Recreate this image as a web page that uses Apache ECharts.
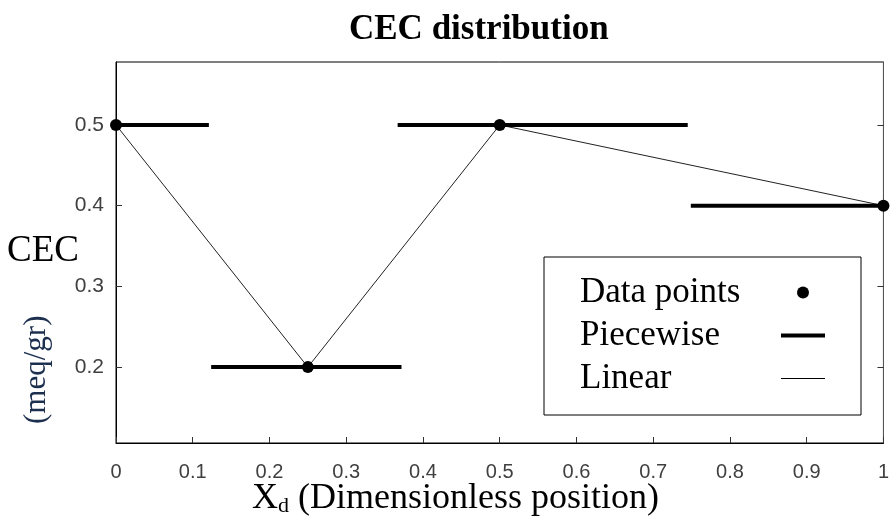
<!DOCTYPE html>
<html>
<head>
<meta charset="utf-8">
<script src="https://cdn.jsdelivr.net/npm/echarts@6/dist/echarts.min.js"></script>
<style>
  * { margin: 0; padding: 0; }
  #chart { width: 892px; height: 525px; background: #fff; }
</style>
</head>
<body>
<div id="chart"></div>
<script>
// measured data points
const pointX = [0, 0.25, 0.5, 1];
const pointY = [0.5, 0.2, 0.5, 0.4];

// piecewise constant pieces
const pieceStart = [0, 0.124, 0.367, 0.749];
const pieceEnd = [0.121, 0.372, 0.745, 1];
const pieceValue = [0.5, 0.2, 0.5, 0.4];

const yTicks = [0.2, 0.3, 0.4, 0.5];

const serif = "'Liberation Serif', 'Times New Roman', serif";
const sans = "'Liberation Sans', Arial, sans-serif";

const points = pointX.map((x, i) => [x, pointY[i]]);

const pieceSeries = pieceStart.map((s, i) => ({
  name: "Piecewise",
  type: "line",
  symbol: "none",
  lineStyle: { color: "#000", width: 4 },
  itemStyle: { color: "#000" },
  data: [[s, pieceValue[i]], [pieceEnd[i], pieceValue[i]]],
  z: 3,
}));

const chart = echarts.init(document.getElementById("chart"), null, { renderer: "canvas" });

const noDot = { color: "rgba(0,0,0,0)", borderWidth: 0 };

const option = {
  animation: false,
  backgroundColor: "#fff",
  title: {
    text: "CEC distribution",
    left: 344,
    top: 7,
    textStyle: { fontFamily: serif, fontSize: 35, fontWeight: "bold", color: "#000" },
  },
  grid: { left: 116, right: 7, top: 62, bottom: 82, show: true, borderColor: "#000", borderWidth: 1 },
  xAxis: {
    type: "value",
    min: 0,
    max: 1,
    interval: 0.1,
    axisLine: { lineStyle: { color: "#000", width: 1 } },
    axisTick: { inside: true, length: 6, lineStyle: { color: "#333" } },
    axisLabel: {
      margin: 19,
      fontFamily: sans,
      fontSize: 20,
      color: "#404040",
      formatter: (v) => String(Math.round(v * 10) / 10),
    },
    splitLine: { show: false },
  },
  yAxis: [
    {
      type: "value",
      min: 0.106,
      max: 0.578,
      axisLine: { show: true, lineStyle: { color: "#000", width: 1 } },
      axisTick: { show: true, inside: true, length: 6, customValues: yTicks, lineStyle: { color: "#333" } },
      axisLabel: {
        margin: 12,
        fontFamily: sans,
        fontSize: 21,
        color: "#404040",
        customValues: yTicks,
        formatter: (v) => String(Math.round(v * 10) / 10),
      },
      splitLine: { show: false },
    },
    {
      type: "value",
      position: "right",
      min: 0.106,
      max: 0.578,
      axisLine: { show: true, lineStyle: { color: "#555", width: 1 } },
      axisTick: { show: true, inside: true, length: 6, customValues: yTicks, lineStyle: { color: "#333" } },
      axisLabel: { show: false },
      splitLine: { show: false },
    },
  ],
  legend: {
    orient: "vertical",
    left: 544,
    top: 257,
    padding: [18, 34, 19, 36],
    align: "right",
    itemWidth: 44,
    itemHeight: 12,
    itemGap: 8,
    borderColor: "#000",
    borderWidth: 1,
    backgroundColor: "#fff",
    selectedMode: false,
    formatter: (name) => "{t|" + name + "}",
    textStyle: {
      color: "#000",
      rich: {
        t: { fontFamily: serif, fontSize: 35, color: "#000", width: 196, lineHeight: 36, align: "left" },
      },
    },
    data: [
      { name: "Data points", icon: "circle", itemStyle: { color: "#000", opacity: 1 } },
      { name: "Piecewise", lineStyle: { width: 4, color: "#000" }, itemStyle: noDot },
      { name: "Linear", lineStyle: { width: 1, color: "#000" }, itemStyle: noDot },
    ],
  },
  graphic: [
    {
      type: "text",
      left: 7,
      top: 233,
      style: { text: "CEC", font: "37px " + serif, fill: "#000" },
    },
    {
      type: "text",
      x: 21,
      y: 424,
      rotation: Math.PI / 2,
      style: { text: "(meq/gr)", font: "31px " + serif, fill: "#1c2f4f" },
    },
    {
      type: "text",
      left: 252,
      top: 481,
      style: {
        text: "{x|X}{sub|d}{x| (Dimensionless position)}",
        rich: {
          x: { fontFamily: serif, fontSize: 36, fill: "#000" },
          sub: { fontFamily: serif, fontSize: 22, fill: "#000", padding: [14, 0, 0, 0] },
        },
      },
    },
  ],
  series: [
    ...pieceSeries,
    {
      name: "Linear",
      type: "line",
      symbol: "none",
      lineStyle: { color: "#222", width: 1 },
      itemStyle: { color: "#000" },
      data: points,
      z: 2,
    },
    {
      name: "Data points",
      type: "scatter",
      symbol: "circle",
      symbolSize: 12,
      itemStyle: { color: "#000", opacity: 1 },
      data: points,
      z: 4,
    },
  ],
};

chart.setOption(option);
window.addEventListener("resize", chart.resize);
</script>
</body>
</html>
